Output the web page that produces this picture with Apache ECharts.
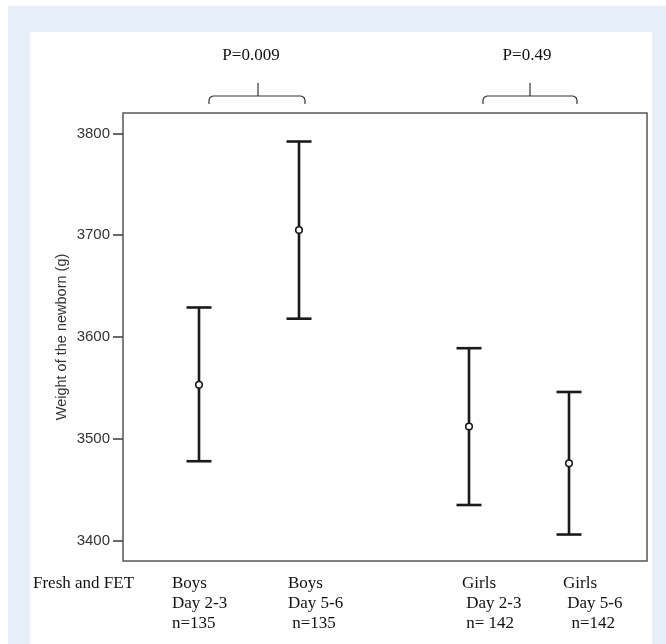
<!DOCTYPE html>
<html>
<head>
<meta charset="utf-8">
<script src="https://cdn.jsdelivr.net/npm/echarts@6/dist/echarts.min.js"></script>
<style>
html, body { margin: 0; padding: 0; background: #fff; }
#main { width: 666px; height: 644px; }
</style>
</head>
<body>
<div id="main"></div>
<script>
// groups along the x axis (abstract positions, boys / gap / girls)
var groupPos = [1, 2, 3.7, 4.7];
var lower = [3478, 3618, 3435, 3406];
var means = [3553, 3705, 3512, 3476];
var upper = [3629, 3792, 3589, 3546];
var yTicks = [3400, 3500, 3600, 3700, 3800];
var pLabels = ['P=0.009', 'P=0.49'];
var groupLabels = [
	'Boys\nDay 2-3\nn=135',
	'Boys\nDay 5-6\n n=135',
	'Girls\n Day 2-3\n n= 142',
	'Girls\n Day 5-6\n  n=142'
];

var myChart = echarts.init(document.getElementById('main'));

var barData = [];
for (var i = 0; i < groupPos.length; i++) {
	barData.push([groupPos[i], lower[i], means[i], upper[i]]);
}

function renderBar(params, api) {
	var x = api.value(0);
	var lo = api.coord([x, api.value(1)]);
	var mid = api.coord([x, api.value(2)]);
	var hi = api.coord([x, api.value(3)]);
	var w = 12.5;
	var st = { stroke: '#1a1a1a', lineWidth: 2.6 };
	return {
		type: 'group',
		children: [
			{ type: 'line', shape: { x1: hi[0], y1: hi[1], x2: lo[0], y2: lo[1] }, style: st },
			{ type: 'line', shape: { x1: hi[0] - w, y1: hi[1], x2: hi[0] + w, y2: hi[1] }, style: st },
			{ type: 'line', shape: { x1: lo[0] - w, y1: lo[1], x2: lo[0] + w, y2: lo[1] }, style: st },
			{ type: 'circle', shape: { cx: mid[0], cy: mid[1], r: 3.3 },
			  style: { fill: '#fff', stroke: '#1a1a1a', lineWidth: 1.6 } }
		]
	};
}

// curly-ish bracket above a pair of groups
function bracket(x1, x2, xm) {
	var st = { fill: 'none', stroke: '#333', lineWidth: 1.2 };
	return [
		{ type: 'polyline', shape: { points: [[x1, 104], [x1, 100], [x1 + 1, 97.5], [x1 + 4, 96], [x2 - 4, 96], [x2 - 1, 97.5], [x2, 100], [x2, 104]] }, style: st },
		{ type: 'line', shape: { x1: xm, y1: 96, x2: xm, y2: 83 }, style: st }
	];
}

var serif = '17px "Liberation Serif"';
var labelX = [172, 288, 462, 563];

var graphics = [
	{ type: 'rect', z: -10, shape: { x: 8, y: 6, width: 658, height: 638 }, style: { fill: '#e6eef8' } },
	{ type: 'rect', z: -9, shape: { x: 30, y: 32, width: 622, height: 612 }, style: { fill: '#fff' } },
	{ type: 'text', x: 251, y: 56, style: { text: pLabels[0], font: serif, fill: '#111', align: 'center', verticalAlign: 'middle' } },
	{ type: 'text', x: 527, y: 56, style: { text: pLabels[1], font: serif, fill: '#111', align: 'center', verticalAlign: 'middle' } },
	{ type: 'text', x: 33, y: 584, style: { text: 'Fresh and FET', font: serif, fill: '#111', align: 'left', verticalAlign: 'middle' } }
];
graphics = graphics.concat(bracket(209, 305, 258), bracket(483, 577, 530));
for (var j = 0; j < groupLabels.length; j++) {
	graphics.push({
		type: 'text', x: labelX[j], y: 574,
		style: { text: groupLabels[j], font: serif, lineHeight: 20, fill: '#111', align: 'left', verticalAlign: 'top' }
	});
}

var option = {
	backgroundColor: '#fff',
	animation: false,
	grid: {
		left: 123, top: 113, right: 19, bottom: 83,
		show: true, borderColor: '#555', borderWidth: 1.5, backgroundColor: 'transparent'
	},
	xAxis: {
		type: 'value', min: 0.24, max: 5.48, show: false
	},
	yAxis: {
		type: 'value', min: 3380, max: 3820,
		name: 'Weight of the newborn (g)',
		nameLocation: 'middle', nameGap: 54, nameMoveOverlap: false,
		nameTextStyle: { fontFamily: 'Liberation Sans', fontSize: 14.5, color: '#333' },
		axisLine: { show: false },
		axisTick: { show: true, length: 10, customValues: yTicks, lineStyle: { color: '#444', width: 1.6 } },
		axisLabel: {
			customValues: yTicks, margin: 13,
			fontFamily: 'Liberation Sans', fontSize: 15, color: '#333',
			formatter: function (v) { return String(v); }
		},
		splitLine: { show: false }
	},
	graphic: graphics,
	series: [{
		type: 'custom',
		renderItem: renderBar,
		encode: { x: 0, y: [1, 2, 3] },
		data: barData
	}]
};

myChart.setOption(option);
</script>
</body>
</html>
